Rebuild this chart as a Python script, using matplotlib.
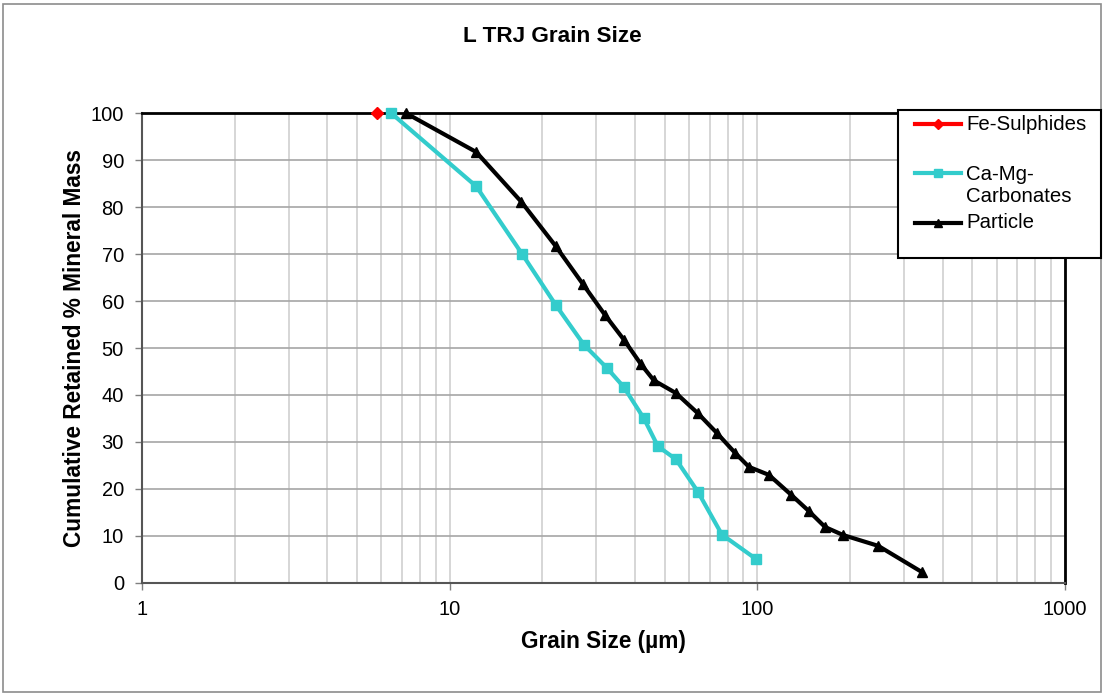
import numpy as np
import matplotlib
import matplotlib.pyplot as plt
from matplotlib.lines import Line2D
from matplotlib.patches import Rectangle
from matplotlib.ticker import LogLocator, NullFormatter, FixedLocator

matplotlib.use("Agg")
plt.rcParams["font.family"] = ["Liberation Sans", "DejaVu Sans"]

# data (grain size in um, cumulative retained %)
fe_size = [5.8]
fe_pct = [100.0]

camg_size = [6.45, 12.2, 17.2, 22.1, 27.3, 32.5, 36.8, 42.8, 47.5, 54.4, 64.1, 76.7, 99.0]
camg_pct = [100.0, 84.4, 70.0, 59.2, 50.7, 45.7, 41.7, 35.0, 29.1, 26.3, 19.4, 10.3, 5.1]

part_size = [7.2, 12.2, 17.1, 22.1, 27.1, 32.0, 36.8, 41.9, 46.1, 54.4, 64.1, 73.9,
             84.6, 93.9, 109, 128.6, 147, 166, 190, 247, 343]
part_pct = [100.0, 91.7, 81.1, 71.7, 63.6, 57.0, 51.8, 46.5, 43.1, 40.4, 36.1, 31.9,
            27.7, 24.7, 23.0, 18.8, 15.3, 11.9, 10.2, 7.9, 2.3]

series = [
    ("Fe-Sulphides", fe_size, fe_pct, "#ff0000", "D", 6),
    ("Ca-Mg-\nCarbonates", camg_size, camg_pct, "#33cccc", "s", 7),
    ("Particle", part_size, part_pct, "#000000", "^", 7),
]

fig = plt.figure(figsize=(11.04, 6.96), dpi=100)
ax = fig.add_axes([0.1286, 0.1624, 0.8361, 0.6752])

for name, xs, ys, col, mk, ms in series:
    ax.plot(xs, ys, color=col, lw=3, marker=mk, markersize=ms, clip_on=False, zorder=3)

ax.set_xscale("log")
ax.set_xlim(1, 1000)
ax.set_ylim(0, 100)
ax.set_yticks(np.arange(0, 101, 10))
ax.xaxis.set_major_locator(FixedLocator([1, 10, 100, 1000]))
ax.set_xticklabels(["1", "10", "100", "1000"])
ax.xaxis.set_minor_locator(LogLocator(base=10, subs=np.arange(2, 10)))
ax.xaxis.set_minor_formatter(NullFormatter())

ax.grid(True, axis="x", which="both", color="#d0d0d0", lw=1.2)
ax.grid(True, axis="y", which="major", color="#a6a6a6", lw=1.2)
ax.set_axisbelow(True)

ax.tick_params(axis="both", which="major", direction="out", length=5, width=1,
               color="#808080", labelsize=14.5)
ax.tick_params(axis="x", which="minor", length=0)
ax.tick_params(axis="x", pad=7)
ax.tick_params(axis="y", pad=8)

for s in ["left", "bottom"]:
    ax.spines[s].set_color("#555555")
    ax.spines[s].set_linewidth(1.5)
for s in ["top", "right"]:
    ax.spines[s].set_color("#000000")
    ax.spines[s].set_linewidth(2)

ax.set_xlabel("Grain Size (µm)", fontsize=16.3, fontweight="bold", labelpad=8)
ax.set_ylabel("Cumulative Retained % Mineral Mass", fontsize=16.3, fontweight="bold", labelpad=3)
fig.text(0.5, 1 - 36 / 696, "L TRJ Grain Size", ha="center", va="center",
         fontsize=16.2, fontweight="bold")

# legend box drawn in figure pixels
W, H = 1104, 696
fig.patches.append(Rectangle((898 / W, 1 - 258 / H), 203 / W, 148 / H,
                             transform=fig.transFigure, facecolor="white",
                             edgecolor="black", lw=1.5, zorder=5))
rows = [124, 173, 223]
for (name, xs, ys, col, mk, ms), yy in zip(series, rows):
    yf = 1 - yy / H
    fig.add_artist(Line2D([915 / W, 961 / W], [yf, yf], transform=fig.transFigure,
                          color=col, lw=3, zorder=6))
    fig.add_artist(Line2D([938 / W], [yf], transform=fig.transFigure, color=col,
                          marker=mk, markersize=ms - 1, zorder=6))
    if "\n" in name:
        fig.text(966 / W, yf - 12 / H, name, ha="left", va="center", fontsize=14.7,
                 zorder=7, linespacing=1.2)
    else:
        fig.text(966 / W, yf, name, ha="left", va="center", fontsize=14.7, zorder=7)

# outer chart border
fig.patches.append(Rectangle((3 / W, 4 / H), 1098 / W, 688 / H, transform=fig.transFigure,
                             facecolor="none", edgecolor="#8c8c8c", lw=1.2, zorder=0))

fig.savefig("out.png", dpi=100)
